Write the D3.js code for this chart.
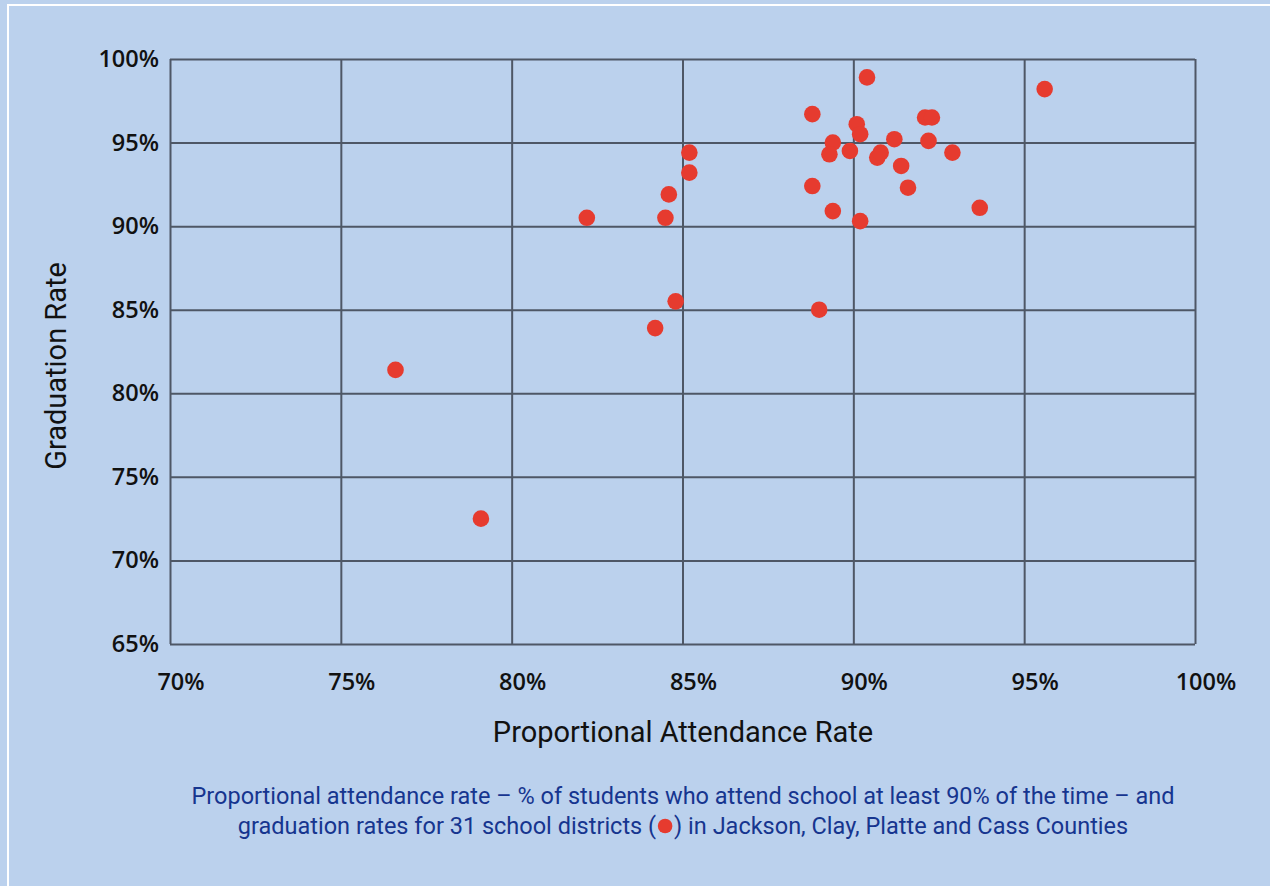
<!DOCTYPE html>
<html>
<head>
<meta charset="utf-8">
<script src="https://cdn.jsdelivr.net/npm/d3@7"></script>
<style>
  html, body { margin: 0; padding: 0; background: #bbd1ed; }
  svg { display: block; }
</style>
</head>
<body>
<svg id="chart" width="1270" height="886"></svg>
<script>
// Data: proportional attendance rate (%) and graduation rate (%) for 31 districts
const attendance = [76.6, 79.1, 82.2, 84.5, 84.6, 85.2, 85.2, 84.8, 84.2, 88.8, 90.4,
  88.8, 89.4, 89.0, 90.2, 89.4, 89.3, 89.9, 90.1, 90.2, 90.7, 90.8, 91.2, 91.4,
  91.6, 92.1, 92.3, 92.2, 92.9, 93.7, 95.6];
const graduation = [81.4, 72.5, 90.5, 90.5, 91.9, 94.4, 93.2, 85.5, 83.9, 96.7, 98.9,
  92.4, 90.9, 85.0, 90.3, 95.0, 94.3, 94.5, 96.1, 95.5, 94.1, 94.4, 95.2, 93.6,
  92.3, 96.5, 96.5, 95.1, 94.4, 91.1, 98.2];
const xTicks = [70, 75, 80, 85, 90, 95, 100];
const yTicks = [65, 70, 75, 80, 85, 90, 95, 100];
const xTitle = "Proportional Attendance Rate";
const yTitle = "Graduation Rate";
const captionLine1 = "Proportional attendance rate – % of students who attend school at least 90% of the time – and";
const captionLine2a = "graduation rates for 31 school districts (";
const captionLine2b = ") in Jackson, Clay, Platte and Cass Counties";

const svg = d3.select("#chart");
const W = 1270, H = 886;
const m = {left: 170, top: 59, right: 1195, bottom: 644};
const dotColor = "#e63b2f";

svg.append("rect").attr("width", W).attr("height", H).attr("fill", "#bbd1ed");
svg.append("rect").attr("x", 8).attr("y", 5).attr("width", W + 20).attr("height", H + 20)
  .attr("fill", "none").attr("stroke", "#ffffff").attr("stroke-width", 2);

const x = d3.scaleLinear().domain([70, 100]).range([m.left, m.right]);
const y = d3.scaleLinear().domain([65, 100]).range([m.bottom, m.top]);

const gridColor = "#4e5766";
const gx = svg.append("g").attr("transform", `translate(0,${m.bottom})`)
  .call(d3.axisBottom(x).tickValues(xTicks).tickSize(-(m.bottom - m.top)).tickFormat(""));
const gy = svg.append("g").attr("transform", `translate(${m.left},0)`)
  .call(d3.axisLeft(y).tickValues(yTicks).tickSize(-(m.right - m.left)).tickFormat(""));
[gx, gy].forEach(g => {
  g.select(".domain").remove();
  g.selectAll(".tick line").attr("stroke", gridColor).attr("stroke-width", 2);
});

const labelFont = "'Open Sans', sans-serif";
svg.append("g").selectAll("text").data(xTicks).join("text")
  .attr("x", d => x(d) + 11).attr("y", 690)
  .attr("text-anchor", "middle")
  .attr("font-family", labelFont).attr("font-weight", 600).attr("font-size", 23.5)
  .attr("fill", "#111").text(d => d + "%");
svg.append("g").selectAll("text").data(yTicks).join("text")
  .attr("x", 159).attr("y", d => y(d) + 8)
  .attr("text-anchor", "end")
  .attr("font-family", labelFont).attr("font-weight", 600).attr("font-size", 23.5)
  .attr("fill", "#111").text(d => d + "%");

svg.append("text").attr("x", 683).attr("y", 742).attr("text-anchor", "middle")
  .attr("font-family", "Roboto, sans-serif").attr("font-size", 29).attr("fill", "#111")
  .text(xTitle);
svg.append("text").attr("transform", `translate(66,366) rotate(-90)`).attr("text-anchor", "middle")
  .attr("font-family", "Roboto, sans-serif").attr("font-size", 29).attr("fill", "#111")
  .text(yTitle);

svg.append("g").selectAll("circle").data(attendance.map((a, i) => [a, graduation[i]]))
  .join("circle")
  .attr("cx", d => x(d[0])).attr("cy", d => y(d[1])).attr("r", 8.3)
  .attr("fill", dotColor);

// Caption
const capFont = "Roboto, sans-serif", capSize = 23.5, capColor = "#16358f";
svg.append("text").attr("x", 683).attr("y", 804)
  .attr("text-anchor", "middle").attr("font-family", capFont).attr("font-size", capSize)
  .attr("fill", capColor).text(captionLine1);
const gap = 18;
const t2a = svg.append("text").attr("font-family", capFont).attr("font-size", capSize)
  .attr("fill", capColor).text(captionLine2a);
const t2b = svg.append("text").attr("font-family", capFont).attr("font-size", capSize)
  .attr("fill", capColor).text(captionLine2b);
const wa = t2a.node().getComputedTextLength();
const wb = t2b.node().getComputedTextLength();
const startX = 683 - (wa + gap + wb) / 2;
t2a.attr("x", startX).attr("y", 834);
t2b.attr("x", startX + wa + gap).attr("y", 834);
svg.append("circle").attr("cx", startX + wa + gap / 2).attr("cy", 826).attr("r", 7.3)
  .attr("fill", dotColor);
</script>
</body>
</html>
